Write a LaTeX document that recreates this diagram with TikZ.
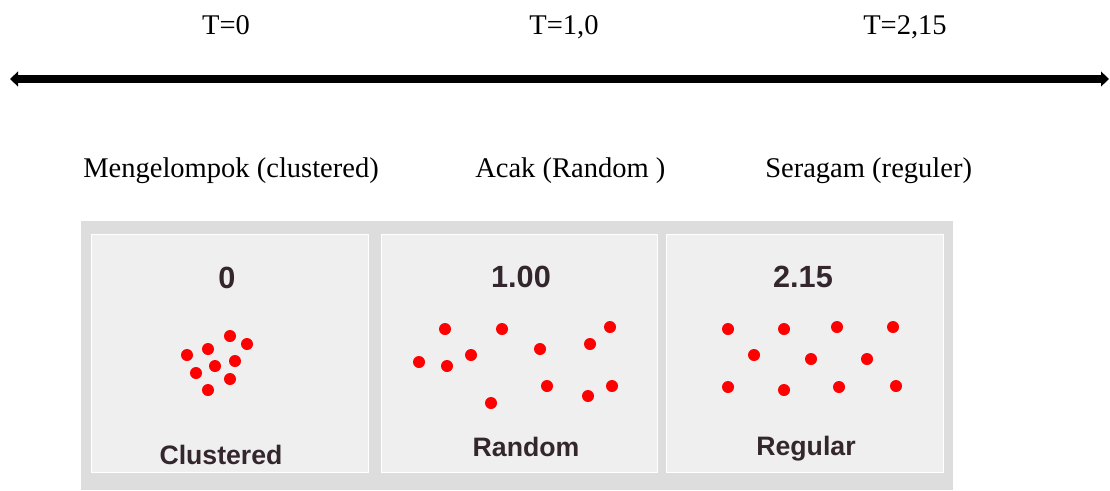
\documentclass[tikz,border=0pt]{standalone}
\usepackage{fontspec}
\setmainfont{Liberation Serif}
\newfontfamily\panelfont{Liberation Sans}
\usetikzlibrary{arrows.meta}
\definecolor{panelgray}{HTML}{DDDDDD}
\definecolor{boxgray}{HTML}{EFEFEF}
\definecolor{labelink}{HTML}{33262C}
\definecolor{dotred}{HTML}{FF0000}
\tikzset{
  toplabel/.style={inner sep=0pt, anchor=base, font=\fontsize{21.4pt}{24pt}\selectfont},
  rowlabel/.style={inner sep=0pt, anchor=base west, font=\fontsize{21.4pt}{24pt}\selectfont},
  numlabel/.style={inner sep=0pt, anchor=base, text=labelink, font=\panelfont\bfseries\fontsize{23pt}{26pt}\selectfont},
  boxlabel/.style={inner sep=0pt, anchor=base, text=labelink, font=\panelfont\bfseries\fontsize{20pt}{23pt}\selectfont},
  dot/.style={circle, fill=dotred, draw=none, minimum size=9pt, inner sep=0pt},
  innerbox/.style={fill=boxgray, draw=white, line width=0.6pt},
  axis/.style={line width=5.6pt, {Triangle[length=6pt,width=11pt]}-{Triangle[length=6pt,width=11pt]}}
}
\begin{document}
\begin{tikzpicture}[x=0.75pt,y=-0.75pt]
\useasboundingbox (0,0) rectangle (1110,490);
% top labels
\node[toplabel] (t0) at (226,34) {T=0};
\node[toplabel] (t1) at (564,34) {T=1,0};
\node[toplabel] (t2) at (905,34) {T=2,15};
% axis
\coordinate (aL) at (10,79);
\coordinate (aR) at (1109,79);
\draw[axis] (aL) -- (aR);
% row labels
\node[rowlabel] (l1) at (83,177) {Mengelompok (clustered)};
\node[rowlabel] (l2) at (475,177) {Acak (Random )};
\node[rowlabel] (l3) at (765,177) {Seragam (reguler)};
% panel
\fill[panelgray] (81,221) rectangle (953,490);
\filldraw[innerbox] (91,234) rectangle (368,472);
\filldraw[innerbox] (381,234) rectangle (657,472);
\filldraw[innerbox] (666,234) rectangle (943,472);
% numbers
\node[numlabel] (n0) at (227,288) {0};
\node[numlabel] (n1) at (521,287) {1.00};
\node[numlabel] (n2) at (803,287) {2.15};
% box labels
\node[boxlabel] (b0) at (221,464) {Clustered};
\node[boxlabel] (b1) at (526,456) {Random};
\node[boxlabel] (b2) at (806,455) {Regular};
% clustered dots
\foreach \i/\x/\y in {1/230/336,2/247/344,3/208/349,4/187/355,5/235/361,6/215/366,7/196/373,8/230/379,9/208/390}
  \node[dot] (c\i) at (\x,\y) {};
% random dots
\foreach \i/\x/\y in {1/445/329,2/502/329,3/610/327,4/590/344,5/540/349,6/471/355,7/419/362,8/447/366,9/547/386,10/612/386,11/588/396,12/491/403}
  \node[dot] (r\i) at (\x,\y) {};
% regular dots
\foreach \i/\x/\y in {1/728/329,2/784/329,3/837/327,4/893/327,5/754/355,6/811/359,7/867/359,8/728/387,9/784/390,10/839/387,11/896/386}
  \node[dot] (g\i) at (\x,\y) {};
\end{tikzpicture}
\end{document}
